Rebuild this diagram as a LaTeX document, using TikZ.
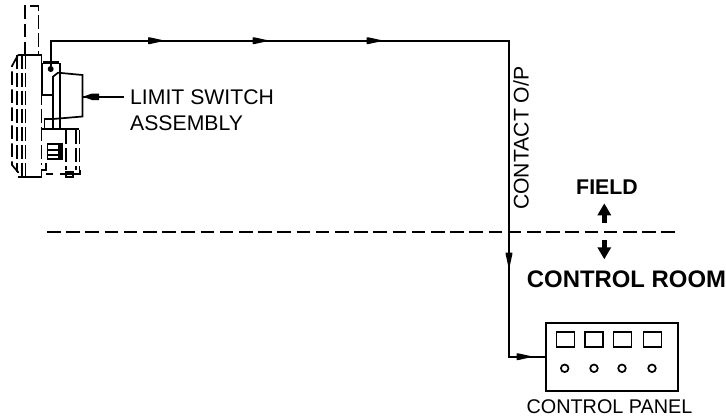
\documentclass[tikz,border=0pt]{standalone}
\usepackage{fontspec}
\setmainfont{Liberation Sans}
\usetikzlibrary{decorations.markings,arrows.meta}
\tikzset{
 x=1pt,y=-1pt,
 dsh/.style={line width=1.7pt,dash pattern=on 13.5pt off 4.5pt},
 dev/.style={line width=1.7pt},
 lab/.style={font=\fontsize{21.2}{24}\selectfont,inner sep=0pt},
 blab/.style={font=\fontsize{23.9}{26}\selectfont\bfseries,inner sep=0pt},
 wire/.style={line width=1.8pt},
 updown/.style={line width=5pt,-{Triangle[length=12pt,width=13pt,sep=0pt]}},
}
\def\wtip{\fill (-8.5,-3.4) -- (-7,-3.4) -- (8.5,0) -- (-7,3.4) -- (-8.5,3.4) -- cycle;}
\begin{document}
\begin{tikzpicture}
\useasboundingbox (0,0) rectangle (726,418);
\begin{scope}[dev]
% antenna
\draw[dsh] (24.7,55) -- (24.7,6) -- (38.5,6) -- (38.5,55);
% body
\draw (18,55) -- (41.5,55);
\draw (18,176.7) -- (41.5,176.7) -- (41.5,170) -- (46,170) -- (46,163);
\draw[dsh] (18,55) -- (12,66) -- (12,165) -- (18,172) -- (18,176.7);
\draw[dsh] (17.3,55) -- (17.3,172);
\draw[dsh] (22.3,55) -- (22.3,176.7);
\draw[dsh] (25.5,55) -- (25.5,176.7);
\draw[dsh] (41.5,55) -- (41.5,165);
% bracket
\draw[line width=3pt] (43,62.5) -- (59,62.5);
\draw (42.3,63) -- (42.3,95) -- (53,95);
\draw (59.7,63) -- (59.7,72);
\fill (50.7,69) circle (3);
\draw[line width=2.4pt] (59.7,72) -- (59.7,128);
\draw (53,128) -- (53,76.7) -- (58,72.7) -- (82.5,75) -- (82.5,116.5) -- (53,119);
\draw (44.5,128) -- (44.5,119) -- (53,119);
% lower box
\draw (41.5,129) -- (79,129);
\draw[dsh] (65.7,130) -- (65.7,170);
\draw[dsh] (76.3,130) -- (76.3,170);
\draw[dsh] (79.5,130) -- (79.5,170);
\draw (46,174) -- (53,174);
\draw (60,174) -- (80,174) -- (80,170);
\draw (66,172) rectangle (73,177);
\draw (47.5,144) rectangle (62.5,159);
\fill (58,144) rectangle (63,159);
\fill (47.5,148.5) rectangle (58,151);
\fill (47.5,153.5) rectangle (58,156);
\end{scope}
% leader
\coordinate (ltip) at (83,96.7);
\node[lab,anchor=west] (lim) at (130,97) {LIMIT SWITCH};
\node[lab,anchor=west] (asm) at (130,123) {ASSEMBLY};
\coordinate (lend) at (124,96.7);
\draw[line width=1.7pt] (lend) -- (ltip);
\fill (ltip) -- (92,93.5) -- (99,93.5) -- (99,100) -- (92,100) -- cycle;
% panel
\node[draw,line width=1.7pt,minimum width=131.7pt,minimum height=68pt,inner sep=0pt] (panel) at (611.8,356.7) {};
\foreach \x in {565.5,594.2,622.5,652.5}{
 \draw[line width=1.7pt] (\x-9,331.7) rectangle (\x+9,347.3);
}
\foreach \x in {564.7,594,622,652}{ \draw[line width=1.7pt] (\x,368.3) circle (3.8); }
\node[lab,font=\fontsize{19.8}{24}\selectfont,anchor=center] (cp) at (609.5,406.7) {CONTROL PANEL};
% wire
\coordinate (start) at (50.7,66);
\coordinate (c1) at (50.7,40.7);
\coordinate (c2) at (509,40.7);
\coordinate (c3) at (509,356.7);
\draw[wire,postaction={decorate,decoration={markings,
 mark=at position 131.3pt with {\wtip},
 mark=at position 235.8pt with {\wtip},
 mark=at position 349.8pt with {\wtip},
 mark=at position 703.9pt with {\wtip},
 mark=at position 815.6pt with {\wtip}}}]
 (start) -- (c1) -- (c2) -- (c3) -- (panel.west |- c3);
% dashed divider
\coordinate (d1) at (47,232.3);
\coordinate (d2) at (674.5,232.3);
\draw[line width=1.8pt,dash pattern=on 13.5pt off 5.7pt] (d1) -- (d2);
% labels
\node[lab,rotate=90,anchor=west] (cop) at (521,210) {CONTACT O/P};
\node[blab,font=\fontsize{21.3}{26}\selectfont\bfseries,anchor=center] (field) at (607,187) {FIELD};
\node[blab,anchor=center] (room) at (626.5,279) {CONTROL ROOM};
\coordinate (u1) at (604.3,222.7); \coordinate (u2) at (604.3,203.3);
\coordinate (v1) at (604.3,240); \coordinate (v2) at (604.3,259.3);
\draw[updown] (u1) -- (u2);
\draw[updown] (v1) -- (v2);
\end{tikzpicture}
\end{document}
